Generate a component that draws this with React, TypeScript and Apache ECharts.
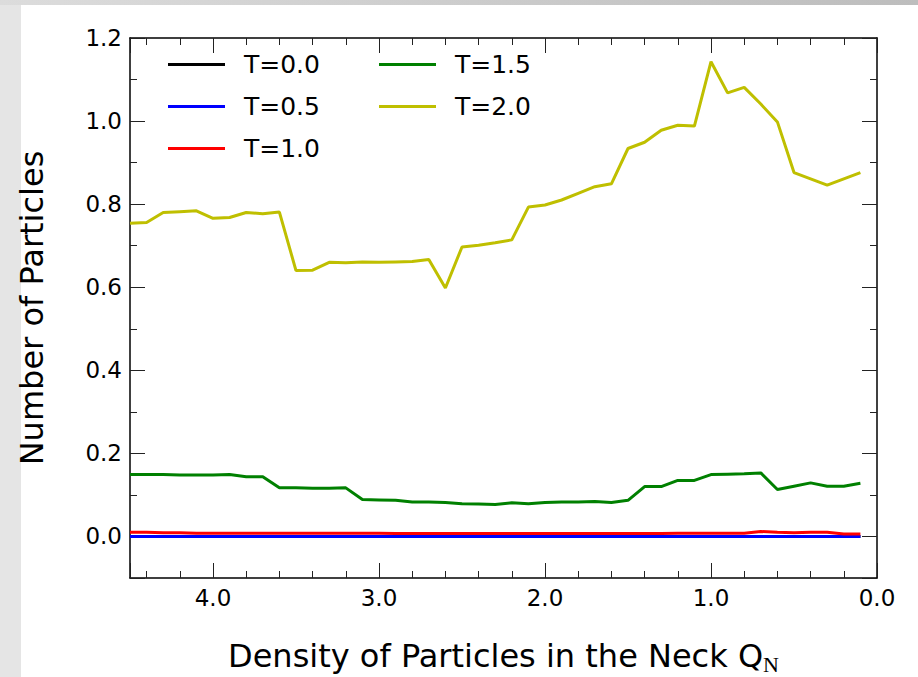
import React, { useEffect, useRef } from "react";
import * as echarts from "echarts";

const xValues = [4.5, 4.4, 4.3, 4.2, 4.1, 4.0, 3.9, 3.8, 3.7, 3.6, 3.5, 3.4, 3.3, 3.2, 3.1, 3.0, 2.9, 2.8, 2.7, 2.6, 2.5, 2.4, 2.3, 2.2, 2.1, 2.0, 1.9, 1.8, 1.7, 1.6, 1.5, 1.4, 1.3, 1.2, 1.1, 1.0, 0.9, 0.8, 0.7, 0.6, 0.5, 0.4, 0.3, 0.2, 0.1];

const seriesNames = ["T=0.0", "T=0.5", "T=1.0", "T=1.5", "T=2.0"];
const seriesColors = ["#000000", "#0000ff", "#ff0000", "#008000", "#bfbf00"];

const t00 = [0, 0, 0, 0, 0, 0, 0, 0, 0, 0, 0, 0, 0, 0, 0, 0, 0, 0, 0, 0, 0, 0, 0, 0, 0, 0, 0, 0, 0, 0, 0, 0, 0, 0, 0, 0, 0, 0, 0, 0, 0, 0, 0, 0, 0];
const t05 = [0, 0, 0, 0, 0, 0, 0, 0, 0, 0, 0, 0, 0, 0, 0, 0, 0, 0, 0, 0, 0, 0, 0, 0, 0, 0, 0, 0, 0, 0, 0, 0, 0, 0, 0, 0, 0, 0, 0, 0, 0, 0, 0, 0, 0];
const t10 = [0.010, 0.010, 0.009, 0.009, 0.008, 0.008, 0.008, 0.008, 0.008, 0.008, 0.008, 0.008, 0.008, 0.008, 0.008, 0.008, 0.007, 0.007, 0.007, 0.007, 0.007, 0.007, 0.007, 0.007, 0.007, 0.007, 0.007, 0.007, 0.007, 0.007, 0.007, 0.007, 0.007, 0.008, 0.008, 0.008, 0.008, 0.008, 0.012, 0.010, 0.009, 0.010, 0.010, 0.006, 0.006];
const t15 = [0.149, 0.149, 0.149, 0.148, 0.148, 0.148, 0.149, 0.144, 0.144, 0.117, 0.117, 0.116, 0.116, 0.117, 0.089, 0.088, 0.087, 0.083, 0.083, 0.082, 0.079, 0.078, 0.077, 0.081, 0.079, 0.082, 0.083, 0.083, 0.084, 0.082, 0.087, 0.120, 0.120, 0.135, 0.135, 0.149, 0.150, 0.151, 0.153, 0.113, 0.121, 0.129, 0.121, 0.121, 0.128];
const t20 = [0.754, 0.756, 0.780, 0.782, 0.784, 0.766, 0.768, 0.780, 0.777, 0.781, 0.640, 0.641, 0.660, 0.659, 0.661, 0.660, 0.661, 0.662, 0.667, 0.598, 0.697, 0.701, 0.707, 0.714, 0.793, 0.798, 0.810, 0.826, 0.842, 0.849, 0.934, 0.949, 0.978, 0.990, 0.988, 1.143, 1.068, 1.081, 1.041, 0.998, 0.876, 0.861, 0.846, 0.861, 0.876];

const allSeries = [t00, t05, t10, t15, t20];

const FONT = "DejaVu Sans";

function makeXAxis(position: string, showLabel: boolean) {
  return {
    type: "value",
    position,
    min: 0,
    max: 4.5,
    interval: 1,
    inverse: true,
    axisLine: { show: true, onZero: false, lineStyle: { color: "#000", width: 1.5 } },
    axisTick: { show: true, inside: true, length: 15, lineStyle: { color: "#222", width: 1 } },
    minorTick: { show: true, splitNumber: 5, length: 7, lineStyle: { color: "#222", width: 1 } },
    splitLine: { show: false },
    axisLabel: {
      show: showLabel,
      margin: 8,
      color: "#000",
      fontFamily: FONT,
      fontSize: 23,
      formatter: (v: number) => (Math.abs(v - 4.5) < 1e-6 ? "" : v.toFixed(1)),
    },
  };
}

function makeYAxis(position: string, showLabel: boolean) {
  return {
    type: "value",
    position,
    min: -0.1,
    max: 1.2,
    splitNumber: 6,
    axisLine: { show: true, onZero: false, lineStyle: { color: "#000", width: 1.5 } },
    axisTick: { show: true, inside: true, length: 15, lineStyle: { color: "#222", width: 1 } },
    minorTick: { show: true, splitNumber: 2, length: 7, lineStyle: { color: "#222", width: 1 } },
    splitLine: { show: false },
    axisLabel: {
      show: showLabel,
      margin: 8,
      color: "#000",
      fontFamily: FONT,
      fontSize: 23,
      showMinLabel: false,
      formatter: (v: number) => (v < -0.05 ? "" : v.toFixed(1)),
    },
  };
}

export default function App() {
  const ref = useRef<HTMLDivElement>(null);
  useEffect(() => {
    if (!ref.current) return;
    const chart = echarts.init(ref.current, null, { renderer: "svg" });
    const legendCommon = {
      orient: "vertical",
      top: 52,
      padding: 0,
      icon: "rect",
      itemWidth: 57,
      itemHeight: 3,
      itemGap: 17,
      textStyle: {
        color: "#000",
        fontFamily: FONT,
        fontSize: 25,
        lineHeight: 24,
        padding: [0, 0, 0, 14],
      },
    };
    chart.setOption({
      animation: false,
      backgroundColor: "#e5e5e5",
      graphic: [
        {
          type: "rect",
          z: -10,
          silent: true,
          shape: { x: 21, y: 5, width: 900, height: 680 },
          style: { fill: "#ffffff" },
        },
        {
          type: "rect",
          z: -10,
          silent: true,
          shape: { x: 0, y: 0, width: 918, height: 5 },
          style: {
            fill: new echarts.graphic.LinearGradient(0, 0, 1, 0, [
              { offset: 0, color: "#dcdcdc" },
              { offset: 1, color: "#bdbdbd" },
            ]),
          },
        },
      ],
      grid: { left: 130, right: 41, top: 38, bottom: 99, containLabel: false, outerBoundsMode: "none" },
      legend: [
        { ...legendCommon, left: 168, data: seriesNames.slice(0, 3) },
        { ...legendCommon, left: 379, data: seriesNames.slice(3) },
      ],
      xAxis: [
        {
          ...makeXAxis("bottom", true),
          name: "{a|Density of Particles in the Neck Q}{b|N}",
          nameLocation: "middle",
          nameGap: 61,
          nameTextStyle: {
            rich: {
              a: { fontFamily: FONT, fontSize: 32, color: "#000", lineHeight: 34 },
              b: { fontFamily: "Liberation Serif", fontSize: 22, color: "#000", lineHeight: 34, padding: [16, 0, 0, 0] },
            },
          },
        },
        makeXAxis("top", false),
      ],
      yAxis: [
        {
          ...makeYAxis("left", true),
          name: "Number of Particles",
          nameLocation: "middle",
          nameGap: 82,
          nameTextStyle: { fontFamily: FONT, fontSize: 32, color: "#000", lineHeight: 32 },
        },
        makeYAxis("right", false),
      ],
      series: allSeries.map((vals, i) => ({
        name: seriesNames[i],
        type: "line",
        xAxisIndex: 0,
        yAxisIndex: 0,
        data: xValues.map((x, j) => [x, vals[j]]),
        showSymbol: false,
        symbol: "none",
        color: seriesColors[i],
        itemStyle: { color: seriesColors[i] },
        lineStyle: { color: seriesColors[i], width: 3 },
        z: 3 + i,
      })),
    });
    return () => chart.dispose();
  }, []);
  return (
    <div
      ref={ref}
      style={{ position: "fixed", left: 0, top: 0, width: 918, height: 677 }}
    />
  );
}
